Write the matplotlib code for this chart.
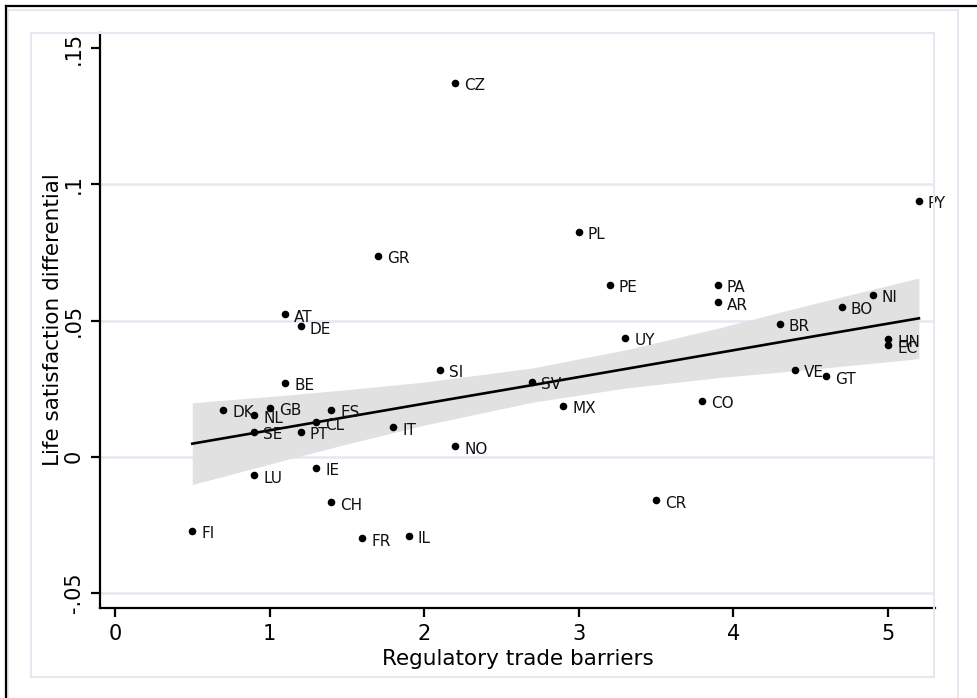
import matplotlib
matplotlib.use("Agg")
import matplotlib.pyplot as plt
from matplotlib.patches import Rectangle
from matplotlib.lines import Line2D
import numpy as np

# country codes and values
countries = ["CZ", "PY", "PL", "GR", "PE", "PA", "AR", "NI", "BO", "AT",
             "DE", "BR", "UY", "HN", "EC", "SI", "VE", "GT", "BE", "SV",
             "CO", "MX", "DK", "GB", "ES", "NL", "CL", "IT", "SE", "PT",
             "NO", "IE", "LU", "CH", "CR", "FI", "FR", "IL"]
barriers = [2.2, 5.2, 3.0, 1.7, 3.2, 3.9, 3.9, 4.9, 4.7, 1.1,
            1.2, 4.3, 3.3, 5.0, 5.0, 2.1, 4.4, 4.6, 1.1, 2.7,
            3.8, 2.9, 0.7, 1.0, 1.4, 0.9, 1.3, 1.8, 0.9, 1.2,
            2.2, 1.3, 0.9, 1.4, 3.5, 0.5, 1.6, 1.9]
life_diff = [0.1373, 0.0938, 0.0824, 0.0736, 0.0630, 0.0630, 0.0567, 0.0594, 0.0550, 0.0523,
             0.0479, 0.0487, 0.0435, 0.0431, 0.0409, 0.0319, 0.0319, 0.0295, 0.0270, 0.0275,
             0.0205, 0.0187, 0.0171, 0.0179, 0.0171, 0.0152, 0.0126, 0.0108, 0.0092, 0.0092,
             0.0038, -0.0040, -0.0068, -0.0167, -0.0160, -0.0272, -0.0299, -0.0290]

# fitted line and 95% band
fit_x = [0.5, 1.0, 1.5, 2.0, 2.7, 3.3, 3.9, 4.5, 5.2]
fit_y = [0.0048, 0.0097, 0.0146, 0.0195, 0.0263, 0.0322, 0.0381, 0.0440, 0.0508]
ci_lo = [-0.0102, -0.0027, 0.0047, 0.0116, 0.0200, 0.0252, 0.0290, 0.0321, 0.0360]
ci_hi = [0.0198, 0.0221, 0.0246, 0.0274, 0.0326, 0.0392, 0.0472, 0.0559, 0.0656]

xticks = [0, 1, 2, 3, 4, 5]
yticks = [-0.05, 0, 0.05, 0.1, 0.15]
ytick_labels = ["-.05", "0", ".05", ".1", ".15"]

W, H = 977, 698
fig = plt.figure(figsize=(W / 100, H / 100), dpi=100)
plt.rcParams['font.family'] = ['DejaVu Sans']

def fx(px):
    return px / W

def fy(py):
    return 1 - py / H

grid_col = "#e4e9f1"

# frame bits of the stata graph region
fig.add_artist(Rectangle((fx(8), fy(700)), fx(958) - fx(8), fy(10) - fy(700),
                         transform=fig.transFigure, fill=False, ec=grid_col, lw=1.5))
fig.add_artist(Rectangle((fx(31), fy(677)), fx(934) - fx(31), fy(33) - fy(677),
                         transform=fig.transFigure, fill=False, ec=grid_col, lw=1.5))
fig.add_artist(Line2D([fx(6), fx(6)], [fy(6), fy(700)], transform=fig.transFigure, color="black", lw=1.6))
fig.add_artist(Line2D([fx(6), fx(977)], [fy(6), fy(6)], transform=fig.transFigure, color="black", lw=1.6))

ax = fig.add_axes([fx(100), fy(608), fx(935) - fx(100), fy(33) - fy(608)])
ax.set_xlim(-0.097, 5.304)
ax.set_ylim(-0.0555, 0.1555)

for v in [-0.05, 0, 0.05, 0.1]:
    ax.axhline(v, color=grid_col, lw=1.8, zorder=0)

ax.fill_between(fit_x, ci_lo, ci_hi, color="#e1e1e1", lw=0, zorder=1)
ax.plot(fit_x, fit_y, color="black", lw=1.9, zorder=2)

ax.scatter(barriers, life_diff, s=30, color="black", zorder=3, linewidths=0)
for c, xv, yv in zip(countries, barriers, life_diff):
    ax.annotate(c, (xv, yv), xytext=(6.5, -2), textcoords="offset points",
                ha="left", va="center", fontsize=11, color="#111111", zorder=4)

for s in ["top", "right"]:
    ax.spines[s].set_visible(False)
for s in ["left", "bottom"]:
    ax.spines[s].set_linewidth(1.6)

ax.set_xticks(xticks)
ax.set_xticklabels([str(t) for t in xticks], fontsize=15)
ax.set_yticks(yticks)
ax.set_yticklabels(ytick_labels, fontsize=15, rotation=90, va="center")
ax.tick_params(length=6.5, width=1.6, pad=5)

ax.set_xlabel("Regulatory trade barriers", fontsize=15.5, va="center")
ax.xaxis.set_label_coords(0.5, -0.0887)
ax.set_ylabel("Life satisfaction differential", fontsize=15.5, va="center", ha="center")
ax.yaxis.set_label_coords(-0.0563, 0.501)

fig.savefig("out.png", dpi=100)
